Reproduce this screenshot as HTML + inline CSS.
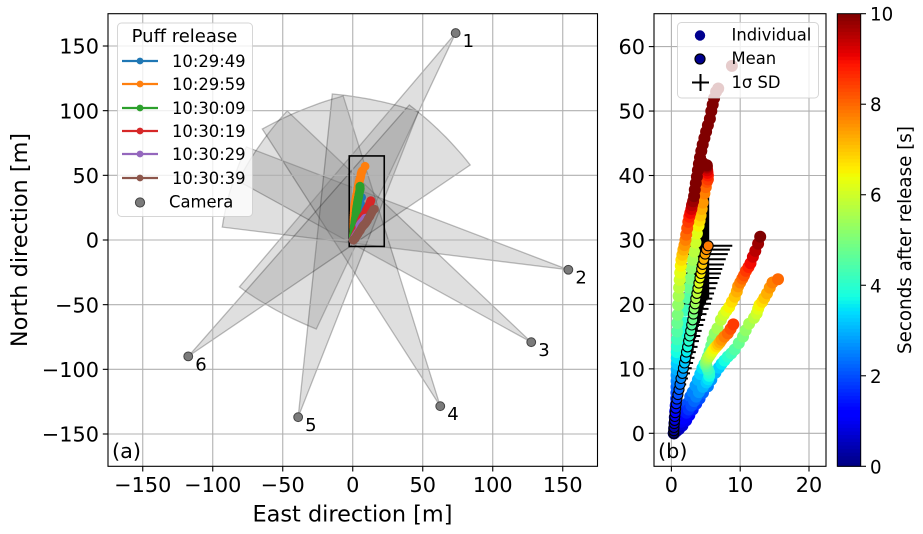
<!DOCTYPE html>
<html>
<head>
<meta charset="utf-8">
<title>Puff release chart</title>
<style>
html,body{margin:0;padding:0;background:#fff;}
svg{display:block;}
text{font-family:"DejaVu Sans","Liberation Sans",sans-serif;fill:#000;}
</style>
</head>
<body>
<svg id="fig" xmlns="http://www.w3.org/2000/svg" width="923" height="534" viewBox="0 0 923 534">
  <defs>
    <clipPath id="clipA"><rect x="108" y="13.7" width="489.5" height="452.6"/></clipPath>
    <clipPath id="clipB"><rect x="654" y="13.7" width="172" height="452.6"/></clipPath>
  </defs>
  <g id="wedges" clip-path="url(#clipA)"></g>
  <g id="gridA"></g>
  <rect id="roi" fill="none" stroke="#000" stroke-width="1.6"/>
  <g id="tracksA" clip-path="url(#clipA)"></g>
  <g id="cams"></g>
  <rect x="108" y="13.7" width="489.5" height="452.6" fill="none" stroke="#000" stroke-width="1.1"/>
  <g id="ticksA"></g>
  <text x="112" y="458" font-size="20.8">(a)</text>
  <text x="352.5" y="521.5" font-size="22.4" text-anchor="middle">East direction [m]</text>
  <text transform="translate(27,240) rotate(-90)" font-size="22.4" text-anchor="middle">North direction [m]</text>

  <g>
    <rect x="117.5" y="23" width="135" height="193.5" rx="4" fill="#fff" fill-opacity="0.8" stroke="#ccc" stroke-opacity="0.8"/>
    <text x="184.5" y="42" font-size="18" text-anchor="middle">Puff release</text>
    <g id="legendA"></g>
    <circle cx="140" cy="202.5" r="4.6" fill="#7b7b7b" stroke="#444" stroke-width="1"/>
    <text x="169" y="207.5" font-size="16.4">Camera</text>
  </g>

  <g id="gridB"></g>
  <g id="errB" clip-path="url(#clipB)"></g>
  <g id="tracksB" clip-path="url(#clipB)"></g>
  <g id="meanB" clip-path="url(#clipB)"></g>
  <rect x="654" y="13.7" width="172" height="452.6" fill="none" stroke="#000" stroke-width="1.1"/>
  <g id="ticksB"></g>
  <text x="658" y="458" font-size="20.8">(b)</text>

  <g>
    <rect x="677.5" y="22.5" width="141" height="75.5" rx="4" fill="#fff" fill-opacity="0.8" stroke="#ccc" stroke-opacity="0.8"/>
    <circle cx="700" cy="35.5" r="5.2" fill="#00008f"/>
    <text x="731.5" y="40.5" font-size="16.4">Individual</text>
    <circle cx="700" cy="59" r="5" fill="#00008f" stroke="#000" stroke-width="1.2"/>
    <text x="731.5" y="64" font-size="16.4">Mean</text>
    <path d="M692 82.5H709M700.5 74V91" stroke="#000" stroke-width="2" fill="none"/>
    <text x="731.5" y="88" font-size="16.4">1σ SD</text>
  </g>

  <g id="cbar"></g>
  <rect x="837.3" y="13.7" width="23.4" height="452.6" fill="none" stroke="#000" stroke-width="1"/>
  <g id="ticksC"></g>
  <text transform="translate(911,240) rotate(-90)" font-size="18.3" text-anchor="middle">Seconds after release [s]</text>
</svg>
<script>
// ---- camera data (metres) ----
const cameraNames = ['1','2','3','4','5','6'];
const cameraEast  = [73.5,154,127.5,62.5,-39,-117.5];
const cameraNorth = [160,-23,-79,-128.5,-137,-90];
const fovEdge1East  = [-81,-93.2,-81.8,-64.6,-14.6,40.4];
const fovEdge1North = [-36.3,10,45.6,85.8,112.9,104.4];
const fovEdge2East  = [-26,-76,-46.8,-6.8,46.8,83.9];
const fovEdge2North = [-68.8,72,99.8,111.4,99,58];

// ---- tick labels ----
const ticksAValues = [-150,-100,-50,0,50,100,150];
const ticksBXValues = [0,10,20];
const ticksBYValues = [0,10,20,30,40,50,60];
const ticksCValues = [0,2,4,6,8,10];

// ---- puff tracks, one sample every 0.25 s ----
const sampleStep = 0.25;
const track1X = [.35,.42,.5,.56,.62,.66,.68,.7,.72,.74,.75,.76,.77,.78,.78,.78,.8,.82,.84,.86,.92,.98,1.05,1.12,1.2,1.28,1.36,1.45,1.6,1.75,1.9,2.05,2.15,2.3,2.45,2.6,2.75,2.9,3,3.15,3.3,3.4,3.55,3.7,3.85,4,4.15,4.35,4.55,4.8,5.05,5.3,5.6,5.8,6,6.2,6.5,6.8,8.8];
const track1Y = [0,.7,1.5,2.3,3,3.8,4.6,5.4,6.3,7.2,8.1,9,9.9,10.8,11.7,12.6,13.5,14.6,15.8,17.1,18.4,19.9,21.3,22.6,23.8,24.9,26,26.9,27.7,28.5,29.2,30,30.8,31.8,32.8,33.6,34.2,34.8,35.4,36,36.8,37.8,38.8,39.8,40.8,41.8,42.8,43.8,44.8,45.8,46.8,47.8,48.8,50,51,52,53,53.5,57];
const track2X = [.35,.4,.45,.5,.55,.63,.72,.8,.88,.95,1.03,1.12,1.2,1.32,1.45,1.7,1.9,2.15,2.35,2.55,2.7,2.9,3.1,3.3,3.5,3.7,3.95,4.1,4.25,4.4,4.55,4.8,5,5.15,5.3,5.3,5.25,5.2,5.15,5.15,5.15];
const track2Y = [0,.8,1.6,2.5,3.4,4.3,5.2,6.1,7,7.9,8.8,10,11,12.2,13.5,15.4,17.2,19.1,21,22.6,24,25.6,26.9,28.2,29.6,31,32.2,33,33.8,34.8,35.8,37.2,38.2,39,39.4,40,40.4,40.8,41.2,41.4,41.6];
const track3X = [.4,.65,.9,1.15,1.35,1.55,1.75,2.1,2.4,2.75,3.1,3.5,3.85,4.2,4.5,4.8,5.1,5.3,5.55,5.8,6,6.3,6.7,7.2,7.6,8,8.4,8.8,9.2,9.5,9.7,10,10.3,10.55,10.85,11.2,11.5,11.85,12.2,12.6,12.9];
const track3Y = [0,.6,1.1,1.6,2.1,2.6,3.1,3.9,4.7,5.7,6.4,7.4,8.3,9.2,10.1,10.7,11.3,11.9,12.7,13.6,14.5,15.5,16.3,17.6,18.4,19,19.6,20.4,21.2,22,22.8,23.4,24,24.5,25.2,25.8,26.4,27.4,28.3,29.4,30.5];
const track4X = [.4,.7,1.1,1.6,2.15,2.6,3.1,3.6,4.1,4.6,5.3,5.8,6.4,6.9,7.3,7.7,8.2,8.7,9.2,9.8,10.4,10.8,11.3,12,12.4,12.6,12.8,13.2,13.5,13.9,14.3,14.7,15.5];
const track4Y = [0,.3,.65,1.2,2,2.8,3.7,4.6,5.4,6.3,7.3,8.3,9.4,10.2,10.8,11.3,11.9,12.4,13,14,15,16,17,17.9,18.6,19.3,19.9,20.4,21,21.7,22.6,23.4,23.9];
const track5X = [.35,.6,.85,1.15,1.45,1.75,2.2,2.5,2.9,3.3,3.6,4,4.6,5.1,5.35,5.5,5.5,5.3,5.1,5,5.05,5.15,5.3,5.5,5.75,6,6.3,6.55,6.8,7.05,7.3,7.7,8.2,8.6,9];
const track5Y = [0,.4,.8,1.3,1.8,2.3,3.2,3.7,4.3,5,5.7,6.4,7.2,7.9,8.4,8.9,9.4,9.9,10.4,10.8,11.1,11.4,11.7,12,12.4,12.8,13.2,13.5,13.8,14.1,14.5,15,15.5,16.2,16.9];
const track6X = [.4,1,1.7,2.4,3.2,4,4.8,5.6,6.3];
const track6Y = [0,4,8,12,16,20,24,28,33];
const track7X = [3.3,3.5,3.7,3.9,4.1,4.3,4.5];
const track7Y = [36,37,38,39,40,41,42];

// ---- series order in panel (a) ----
const puffNames  = ['10:29:49','10:29:59','10:30:09','10:30:19','10:30:29','10:30:39'];
const puffColors = ['#1f77b4','#ff7f0e','#2ca02c','#d62728','#9467bd','#8c564b'];
const puffX = [track6X,track1X,track2X,track3X,track5X,track4X];
const puffY = [track6Y,track1Y,track2Y,track3Y,track5Y,track4Y];

// ---- panel (b) individual tracks and mean, mean sampled every 0.2 s ----
const individualX = [track7X,track2X,track1X,track3X,track4X,track5X];
const individualY = [track7Y,track2Y,track1Y,track3Y,track4Y,track5Y];
const individualStart = [9.5,0,0,0,0,0];
const meanStep = 0.2;
const meanX = [.35,.35,.38,.42,.46,.5,.55,.62,.7,.8,.95,1.1,1.25,1.4,1.6,1.75,1.9,2.05,2.2,2.35,2.5,2.65,2.8,2.95,3.1,3.2,3.3,3.45,3.55,3.7,3.85,4,4.15,4.3,4.4,4.55,4.7,4.9,5.1,5.35];
const meanY = [0,.4,.9,1.5,2,2.6,3.2,3.9,4.6,5.3,6,6.8,7.6,8.5,9.3,10.1,10.9,11.7,12.6,13.4,14.3,15.1,15.9,16.8,17.6,18.5,19.3,20.1,20.9,21.7,22.5,23.3,24.1,24.8,25.5,26.2,27,27.8,28.5,29.1];
const sdX = [.05,.1,.15,.2,.25,.3,.35,.4,.5,.6,.7,.8,.9,1,1.1,1.2,1.25,1.3,1.35,1.45,1.5,1.55,1.6,1.7,1.8,1.9,2.1,2.3,2.4,2.5,2.6,2.7,2.8,2.9,3,3.1,3.2,3.3,3.4,3.5];
const sdY = [.1,.15,.25,.4,.5,.7,.8,1,1.2,1.4,1.6,1.8,2,2.2,2.5,2.7,2.9,3.1,3.4,3.6,3.8,4.1,4.3,4.6,4.8,5,5.2,5.4,5.6,5.8,6,6.2,6.4,6.6,6.8,7,7.2,7.6,7.9,8.2];

// ---- axis functions ----
const xA = v => 352.75 + v * 1.4;
const yA = v => 240 - v * 1.2933;
const xB = v => 671.4 + v * 6.88;
const yB = v => 433.3 - v * 6.445;
const yC = v => 466.3 - v * 45.26;

const NS = 'http://www.w3.org/2000/svg';
function mk(tag, parent, attrs) {
  const el = document.createElementNS(NS, tag);
  for (const k in attrs) el.setAttribute(k, attrs[k]);
  parent.appendChild(el);
  return el;
}
const $ = id => document.getElementById(id);
function clamp(v){ return Math.max(0, Math.min(1, v)); }
function jet(t) {
  const v = clamp(t / 10);
  const r = v < .35 ? 0 : v < .66 ? (v - .35) / .31 : v < .89 ? 1 : 1 - (v - .89) / .11 * .5;
  const g = v < .125 ? 0 : v < .375 ? (v - .125) / .25 : v < .64 ? 1 : v < .91 ? 1 - (v - .64) / .27 : 0;
  const b = v < .11 ? .5 + v / .11 * .5 : v < .34 ? 1 : v < .65 ? 1 - (v - .34) / .31 : 0;
  return 'rgb(' + Math.round(r * 255) + ',' + Math.round(g * 255) + ',' + Math.round(b * 255) + ')';
}
const minus = v => (v < 0 ? '\u2212' + (-v) : String(v));

// ---- wedges ----
cameraNames.forEach((name, i) => {
  const cx = cameraEast[i], cy = cameraNorth[i];
  const d1x = fovEdge1East[i] - cx, d1y = fovEdge1North[i] - cy;
  const d2x = fovEdge2East[i] - cx, d2y = fovEdge2North[i] - cy;
  const a1 = Math.atan2(d1y, d1x), r1 = Math.hypot(d1x, d1y);
  let da = Math.atan2(d2y, d2x) - a1;
  if (da > Math.PI) da -= 2 * Math.PI;
  if (da < -Math.PI) da += 2 * Math.PI;
  const r2 = Math.hypot(d2x, d2y);
  const pts = [xA(cx) + ',' + yA(cy)];
  for (let k = 0; k <= 14; k++) {
    const f = k / 14, a = a1 + da * f, r = r1 + (r2 - r1) * f;
    pts.push(xA(cx + r * Math.cos(a)).toFixed(1) + ',' + yA(cy + r * Math.sin(a)).toFixed(1));
  }
  const el = mk('polygon', $('wedges'), {points: pts.join(' '), fill: '#808080', 'fill-opacity': .25, stroke: '#000', 'stroke-opacity': .25, 'stroke-width': 1.3});
  
  
});

// ---- grids + ticks ----
const gridStyle = {stroke: '#b0b0b0', 'stroke-width': 1.1};
ticksAValues.forEach(v => {
  const gx = mk('line', $('gridA'), Object.assign({x1: xA(v), x2: xA(v), y1: 13.7, y2: 466.3}, gridStyle));
  
  
  const gy = mk('line', $('gridA'), Object.assign({x1: 108, x2: 597.5, y1: yA(v), y2: yA(v)}, gridStyle));
  
  
  const tx = mk('line', $('ticksA'), {x1: xA(v), x2: xA(v), y1: 466.3, y2: 471.5, stroke: '#000', 'stroke-width': 1.1});
  
  
  const ty = mk('line', $('ticksA'), {x1: 102.8, x2: 108, y1: yA(v), y2: yA(v), stroke: '#000', 'stroke-width': 1.1});
  
  
  const lx = mk('text', $('ticksA'), {x: xA(v), y: 492, 'font-size': 20.8, 'text-anchor': 'middle'});
  lx.textContent = minus(v);
  
  
  const ly = mk('text', $('ticksA'), {x: 99, y: yA(v) + 7.6, 'font-size': 20.8, 'text-anchor': 'end'});
  ly.textContent = minus(v);
  
  
});
ticksBXValues.forEach(v => {
  const g = mk('line', $('gridB'), Object.assign({x1: xB(v), x2: xB(v), y1: 13.7, y2: 466.3}, gridStyle));
  
  
  const t = mk('line', $('ticksB'), {x1: xB(v), x2: xB(v), y1: 466.3, y2: 471.5, stroke: '#000', 'stroke-width': 1.1});
  
  
  const l = mk('text', $('ticksB'), {x: xB(v), y: 492, 'font-size': 20.8, 'text-anchor': 'middle'});
  l.textContent = minus(v);
  
  
});
ticksBYValues.forEach(v => {
  const g = mk('line', $('gridB'), Object.assign({x1: 654, x2: 826, y1: yB(v), y2: yB(v)}, gridStyle));
  
  
  const t = mk('line', $('ticksB'), {x1: 648.8, x2: 654, y1: yB(v), y2: yB(v), stroke: '#000', 'stroke-width': 1.1});
  
  
  const l = mk('text', $('ticksB'), {x: 645, y: yB(v) + 7.6, 'font-size': 20.8, 'text-anchor': 'end'});
  l.textContent = minus(v);
  
  
});

// ---- box in panel (a) showing the extent of panel (b) ----
const roi = $('roi');
roi.setAttribute('x', xA(-2.5));
roi.setAttribute('y', yA(65));
roi.setAttribute('width', xA(22.5) - xA(-2.5));
roi.setAttribute('height', yA(-5) - yA(65));

// ---- panel (a) puff tracks and legend ----
puffNames.forEach((name, s) => {
  const xs = puffX[s], ys = puffY[s], col = puffColors[s];
  const g = mk('g', $('tracksA'), {});
  
  
  const line = mk('polyline', g, {points: xs.map((x, i) => xA(x).toFixed(1) + ',' + yA(ys[i]).toFixed(1)).join(' '), fill: 'none', stroke: col, 'stroke-width': 2.2});
  
  
  xs.forEach((x, i) => {
    const c = mk('circle', g, {cx: xA(x).toFixed(1), cy: yA(ys[i]).toFixed(1), r: 4.4, fill: col});
    
    
  });
  const ly = [61, 84, 108, 131, 154, 178][s];
  const ll = mk('line', $('legendA'), {x1: 122, x2: 158, y1: ly, y2: ly, stroke: col, 'stroke-width': 2.2});
  
  
  const lc = mk('circle', $('legendA'), {cx: 140, cy: ly, r: 3.4, fill: col});
  
  
  const lt = mk('text', $('legendA'), {x: 172, y: ly + 6, 'font-size': 16.4});
  lt.textContent = name;
  
  
});

// ---- cameras ----
cameraNames.forEach((name, i) => {
  const c = mk('circle', $('cams'), {cx: xA(cameraEast[i]), cy: yA(cameraNorth[i]), r: 4.4, fill: '#7b7b7b', stroke: '#444', 'stroke-width': 1});
  
  
  const t = mk('text', $('cams'), {x: xA(cameraEast[i]) + 7, y: yA(cameraNorth[i]) + 14, 'font-size': 18});
  t.textContent = name;
  
  
});

// ---- panel (b) ----
meanX.forEach((x, i) => {
  const h = mk('line', $('errB'), {x1: xB(x - sdX[i]), x2: xB(x + sdX[i]), y1: yB(meanY[i]), y2: yB(meanY[i]), stroke: '#000', 'stroke-width': 2});
  
  
  const v = mk('line', $('errB'), {x1: xB(x), x2: xB(x), y1: yB(meanY[i] - sdY[i]), y2: yB(meanY[i] + sdY[i]), stroke: '#000', 'stroke-width': 2});
  
  
});
individualX.forEach((xs, s) => {
  const ys = individualY[s];
  xs.forEach((x, i) => {
    const c = mk('circle', $('tracksB'), {cx: xB(x).toFixed(1), cy: yB(ys[i]).toFixed(1), r: 6, fill: jet(individualStart[s] + i * sampleStep)});
    
    
  });
});
meanX.forEach((x, i) => {
  const c = mk('circle', $('meanB'), {cx: xB(x).toFixed(1), cy: yB(meanY[i]).toFixed(1), r: 5, fill: jet(i * meanStep), stroke: '#000', 'stroke-width': 1.1});
  
  
});

// ---- colorbar ----
for (let k = 0; k < 128; k++) {
  const t0 = k / 128 * 10, t1 = (k + 1) / 128 * 10;
  const r = mk('rect', $('cbar'), {x: 837.3, width: 23.4, y: yC(t1), height: yC(t0) - yC(t1) + .5, fill: jet((t0 + t1) / 2)});
  
  
}
ticksCValues.forEach(v => {
  const t = mk('line', $('ticksC'), {x1: 860.7, x2: 866, y1: yC(v), y2: yC(v), stroke: '#000', 'stroke-width': 1.1});
  
  
  const l = mk('text', $('ticksC'), {x: 870, y: yC(v) + 7, 'font-size': 18.2});
  l.textContent = String(v);
  
  
});
</script>
</body>
</html>
